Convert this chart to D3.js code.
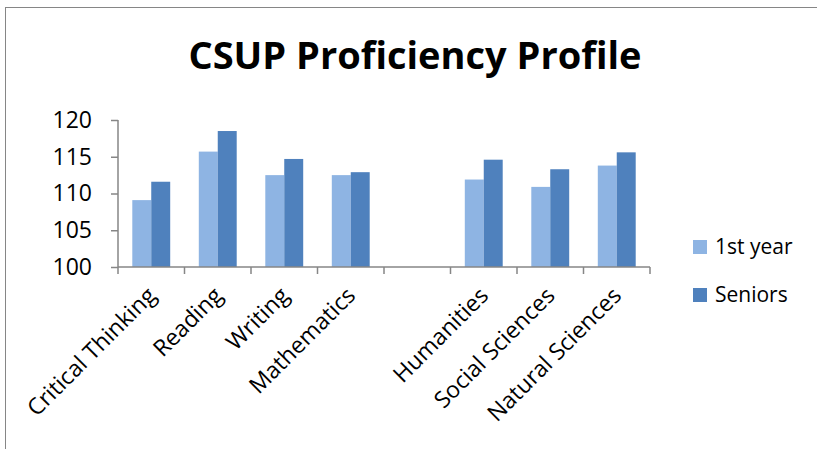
<!DOCTYPE html>
<html><head><meta charset="utf-8">
<script src="https://cdn.jsdelivr.net/npm/d3@7"></script>
<style>body{margin:0;background:#fff}svg{display:block}text{font-family:"Open Sans",sans-serif}</style>
</head><body>
<script>
const categories = ["Critical Thinking","Reading","Writing","Mathematics","","Humanities","Social Sciences","Natural Sciences"];
const firstYear = [109.1,115.7,112.5,112.5,null,111.9,110.9,113.8];
const seniors   = [111.6,118.5,114.7,112.9,null,114.6,113.3,115.6];
const seriesNames = ["1st year","Seniors"];
const yTicks = [100,105,110,115,120];
const colors = ["#8EB4E3","#4F81BD"];

const W=817,H=449;
const svg=d3.select("body").append("svg").attr("width",W).attr("height",H);
svg.append("rect").attr("x",5.5).attr("y",7.5).attr("width",W+10).attr("height",H+10)
  .attr("fill","none").attr("stroke","#868686").attr("stroke-width",1);

svg.append("text").attr("x",415).attr("y",69).attr("text-anchor","middle")
  .attr("font-size",38).attr("font-weight","bold").attr("fill","#000")
  .text("CSUP Proficiency Profile");

const x=d3.scaleBand().domain(d3.range(categories.length)).range([118,650]).paddingInner(0).paddingOuter(0);
const y=d3.scaleLinear().domain([100,120]).range([267,120]);
const bw = x.bandwidth();
const inner=d3.scaleBand().domain([0,1]).range([bw*0.215,bw*0.785]);

const g=svg.append("g");
const data=[firstYear,seniors];
data.forEach((vals,si)=>{
  g.selectAll(null).data(vals.map((v,i)=>({v,i})).filter(d=>d.v!=null)).enter().append("rect")
   .attr("x",d=>x(d.i)+inner(si)).attr("width",inner.bandwidth())
   .attr("y",d=>y(d.v)).attr("height",d=>y(100)-y(d.v)).attr("fill",colors[si]);
});

const ya=svg.append("g").attr("transform","translate(118,0)")
  .call(d3.axisLeft(y).tickValues(yTicks).tickSize(7).tickPadding(19).tickFormat(d3.format("d")));
ya.selectAll("text").attr("font-size",23).attr("fill","#000").style("font-family","'Open Sans',sans-serif");
const xa=svg.append("g").attr("transform","translate(0,267)");
xa.append("line").attr("x1",118).attr("x2",650).attr("y1",0).attr("y2",0);
xa.selectAll("line.t").data(d3.range(categories.length+1)).enter().append("line").attr("class","t")
  .attr("x1",i=>118+i*bw).attr("x2",i=>118+i*bw).attr("y1",0).attr("y2",7);
[ya,xa].forEach(a=>{a.selectAll("line,path").attr("stroke","#868686").attr("stroke-width",1.5);a.select(".domain").attr("d","M0,120V267");});
xa.selectAll("text.lab").data(categories).enter().append("text").attr("class","lab")
  .attr("font-size",23).attr("text-anchor","end").attr("fill","#000")
  .attr("transform",(d,i)=>`translate(${x(i)+bw/2+6},${30}) rotate(-45)`).text(d=>d);

const lg=svg.append("g");
seriesNames.forEach((n,i)=>{
  lg.append("rect").attr("x",693).attr("y",240+i*48).attr("width",14).attr("height",14).attr("fill",colors[i]);
  lg.append("text").attr("x",715).attr("y",254+i*48).attr("font-size",21).attr("fill","#000").text(n);
});
</script>
</body></html>
